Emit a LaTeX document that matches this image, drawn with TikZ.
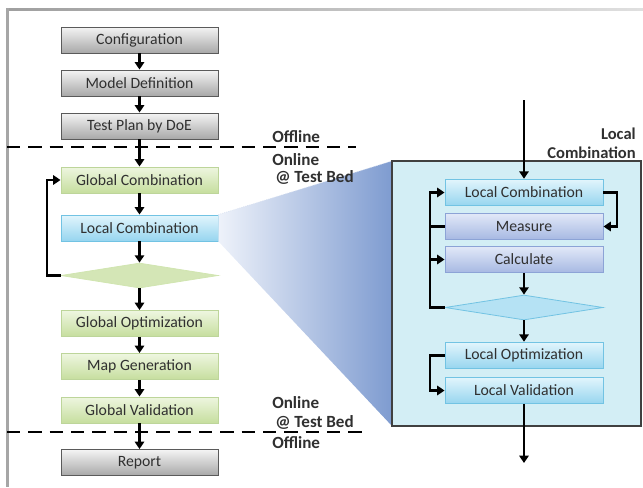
\documentclass[tikz,border=0pt]{standalone}
\usepackage{fontspec}
\setmainfont{Carlito}
\usetikzlibrary{shapes.geometric,arrows.meta,calc}

\definecolor{txt}{HTML}{303030}
\definecolor{grayTop}{HTML}{F4F4F4}
\definecolor{grayBot}{HTML}{A8A8A8}
\definecolor{grayEdge}{HTML}{5A5A5A}
\definecolor{greenTop}{HTML}{EEF6E0}
\definecolor{greenBot}{HTML}{C6DE9E}
\definecolor{greenEdge}{HTML}{BDD59A}
\definecolor{cyanTop}{HTML}{E2F5FC}
\definecolor{cyanBot}{HTML}{96D5EF}
\definecolor{cyanEdge}{HTML}{72C3E3}
\definecolor{lavTop}{HTML}{E2E9F8}
\definecolor{lavBot}{HTML}{A6B8E2}
\definecolor{lavEdge}{HTML}{8CA3D6}
\definecolor{panelFill}{HTML}{D3EEF5}
\definecolor{projLight}{HTML}{EEF2FA}
\definecolor{projDark}{HTML}{7E9BD0}

\tikzset{
  every node/.style={font=\fontsize{11.8pt}{13pt}\selectfont, text=txt},
  procbox/.style={rectangle, minimum width=117.75pt, minimum height=19.5pt, inner sep=0pt, line width=0.7pt},
  graybox/.style={procbox, draw=grayEdge, top color=grayTop, bottom color=grayBot},
  greenbox/.style={procbox, draw=greenEdge, top color=greenTop, bottom color=greenBot},
  cyanbox/.style={procbox, draw=cyanEdge, top color=cyanTop, bottom color=cyanBot},
  lavbox/.style={procbox, draw=lavEdge, top color=lavTop, bottom color=lavBot},
  decision/.style={diamond, minimum width=117.75pt, minimum height=18.75pt, inner sep=0pt, line width=0.6pt, aspect=6},
  flow/.style={line width=2pt, -{Triangle[length=5.5pt,width=7pt]}},
  link/.style={line width=2pt},
  phase/.style={font=\fontsize{12.8pt}{14pt}\selectfont\bfseries, anchor=west, inner sep=0pt},
  divider/.style={line width=1.6pt, dash pattern=on 10pt off 6pt},
}

\begin{document}
\begin{tikzpicture}[x=0.75pt, y=-0.75pt]
\useasboundingbox (0,0) rectangle (643,487);

% outer frame (top and left edges)
\shade[left color=gray!75, right color=gray!25] (6,8) rectangle (643,10.5);
\fill[gray!70] (6,8) rectangle (8.5,487);

% ---------- main flow ----------
\node[graybox]  (conf)  at (139.5,40)  {Configuration};
\node[graybox]  (model) at (139.5,83)  {Model Definition};
\node[graybox]  (plan)  at (139.5,126) {Test Plan by DoE};
\node[greenbox] (gcomb) at (139.5,180) {Global Combination};
\node[cyanbox]  (lcomb) at (139.5,228) {Local Combination};
\node[decision, draw=greenBot!80!white, fill=greenBot!75!white] (gdec) at (139.5,275.5) {};
\node[greenbox] (gopt)  at (139.5,323.5) {Global Optimization};
\node[greenbox] (gmap)  at (139.5,366.5) {Map Generation};
\node[greenbox] (gval)  at (139.5,410)   {Global Validation};
\node[graybox]  (rep)   at (139.5,462.5) {Report};

% projection of the local combination detail
\shade[left color=projLight, right color=projDark]
  (lcomb.north east) -- (392,161) -- (392,426) -- (lcomb.south east) -- cycle;
\draw[white!70!projDark, densely dotted, line width=0.5pt] (lcomb.north east) -- (392,161);

% phase dividers
\draw[divider] (7,147) -- (356,147);
\draw[divider] (7,432) -- (364,432);

\node[phase] at (272,137) {Offline};
\node[phase] at (272,160) {Online};
\node[phase] at (275,177) {@ Test Bed};
\node[phase] at (272,403) {Online};
\node[phase] at (275,422) {@ Test Bed};
\node[phase] at (272,443) {Offline};

\draw[flow] (conf) -- (model);
\draw[flow] (model) -- (plan);
\draw[flow] (plan) -- (gcomb);
\draw[flow] (gcomb) -- (lcomb);
\draw[flow] (lcomb) -- (gdec);
\draw[flow] (gdec) -- (gopt);
\draw[flow] (gopt) -- (gmap);
\draw[flow] (gmap) -- (gval);
\draw[flow] (gval) -- (rep);
\draw[flow] (gdec.west) -- (47,275.5) |- (gcomb.west);

% ---------- local combination detail ----------
\node[draw=black!75, line width=1.1pt, fill=panelFill, minimum width=186.75pt, minimum height=198.75pt, inner sep=0pt] (panel) at (516.5,293.5) {};
\node[font=\fontsize{12.4pt}{14.5pt}\selectfont\bfseries, align=right, anchor=south east, inner sep=0pt] (plabel) at (636,159) {Local\\Combination};

\node[cyanbox, minimum width=118.5pt, minimum height=20pt] (lc)   at (524,192.5) {Local Combination};
\node[lavbox,  minimum width=118.5pt, minimum height=20pt] (meas) at (524,226.5) {Measure};
\node[lavbox,  minimum width=118.5pt, minimum height=20pt] (calc) at (524,259.5) {Calculate};
\node[decision, minimum width=118.5pt, draw=cyanEdge, fill=cyanBot!70!white] (ldec) at (524,307.5) {};
\node[cyanbox, minimum width=118.5pt, minimum height=20pt] (lopt) at (524,355.5) {Local Optimization};
\node[cyanbox, minimum width=118.5pt, minimum height=20pt] (lval) at (524,390.5) {Local Validation};

\coordinate (inTop) at (524,100);
\coordinate (outBot) at (524,463);

\draw[flow] (inTop) -- (lc);
\draw[flow] (lc.east) -- (617,192.5) |- (meas.east);
\draw[flow] (ldec.west) -- (430,307.5) |- (lc.west);
\draw[link] (430,226.5) -- (meas.west);
\draw[flow] (430,259.5) -- (calc.west);
\draw[flow] (calc) -- (ldec);
\draw[flow] (ldec) -- (lopt);
\draw[flow] (lopt.west) -- (430,355.5) |- (lval.west);
\draw[flow] (lval) -- (outBot);
\end{tikzpicture}
\end{document}
